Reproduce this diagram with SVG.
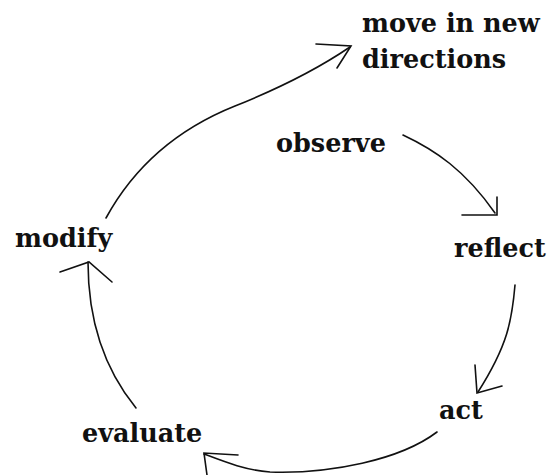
<svg xmlns="http://www.w3.org/2000/svg" width="552" height="475" viewBox="0 0 552 475">
<style>
.lbl{font-family:"DejaVu Serif","Liberation Serif",serif;font-weight:bold;font-size:25.5px;fill:#111}
.ln{fill:none;stroke:#111;stroke-width:1.6;stroke-linecap:round;stroke-linejoin:miter}
</style>
<rect width="552" height="475" fill="#fff"/>
<g id="connectors">
<g id="modify-to-move">
<path class="ln" d="M106,218 C135,165 180,128 235,106 C285,86 322,66 350,47"/>
<path class="ln" d="M316,44 L351,46 L337,68"/>
</g>
<g id="observe-to-reflect">
<path class="ln" d="M403,135 C435,150 465,170 495,213"/>
<path class="ln" d="M462,215 L497,215 L497,197"/>
</g>
<g id="reflect-to-act">
<path class="ln" d="M515,285 C512,320 508,345 478,392"/>
<path class="ln" d="M475,365 L477,393 L502,386"/>
</g>
<g id="act-to-evaluate">
<path class="ln" d="M437,432 C400,460 330,474 270,472 C245,470 225,462 204,454"/>
<path class="ln" d="M238,455 L204,453 L207,475"/>
</g>
<g id="evaluate-to-modify">
<path class="ln" d="M136,408 C105,370 88,320 88,262"/>
<path class="ln" d="M60,272 L89,262 L112,282"/>
</g>
</g>
<g id="node-move"><text class="lbl" x="362" y="32">move in new</text><text class="lbl" x="362" y="68">directions</text></g>
<g id="node-observe"><text class="lbl" x="276" y="152">observe</text></g>
<g id="node-reflect"><text class="lbl" x="454" y="257">reflect</text></g>
<g id="node-act"><text class="lbl" x="439" y="419">act</text></g>
<g id="node-evaluate"><text class="lbl" x="82" y="442">evaluate</text></g>
<g id="node-modify"><text class="lbl" x="15" y="247">modify</text></g>
</svg>
